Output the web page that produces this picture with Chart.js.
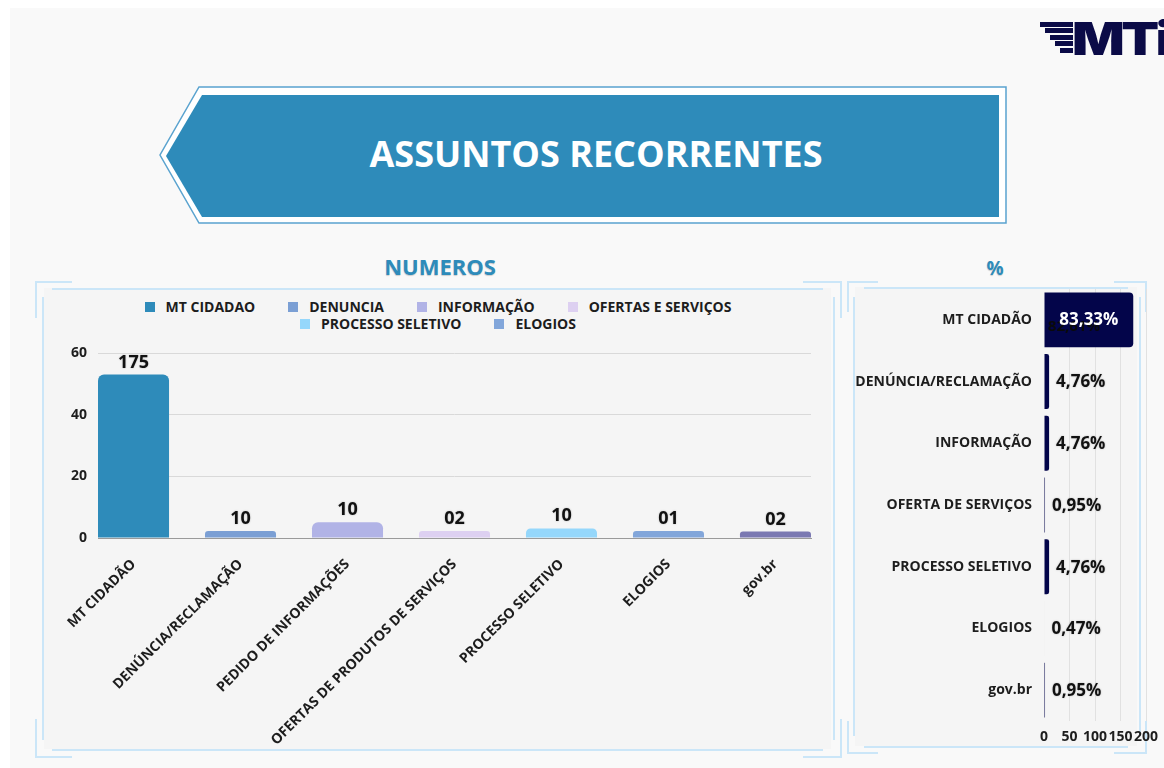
<!DOCTYPE html>
<html lang="pt-BR">
<head>
<meta charset="utf-8">
<title>Assuntos Recorrentes</title>
<script src="https://cdn.jsdelivr.net/npm/chart.js@4.4.1/dist/chart.umd.min.js"></script>
<style>
    html, body { margin: 0; padding: 0; }
    body {
        width: 1164px; height: 768px; position: relative; overflow: hidden;
        background: #ffffff; font-family: 'Open Sans', sans-serif;
    }
    .page { position: absolute; left: 10px; top: 8px; right: 0; bottom: 0; background: #f9f9f9; }
    .abs { position: absolute; }

    /* logo */
    .stripe { position: absolute; height: 5px; background: #0b0b47; }
    .logo-text {
        position: absolute; left: 1072px; top: 15px; font-family: 'Inter', sans-serif;
        font-weight: 900; font-size: 46px; line-height: 46px; color: #0b0b47; letter-spacing: -3px;
        transform: scaleX(1.2); transform-origin: left top; white-space: nowrap;
    }

    /* banner */
    .banner-text {
        position: absolute; left: 596px; top: 130px; transform: translateX(-50%);
        color: #fff; font-weight: 700; font-size: 36px; line-height: 48px; white-space: nowrap;
    }
    .section-title {
        position: absolute; transform: translateX(-50%); color: #2e8bba; font-weight: 700;
        white-space: nowrap; text-shadow: 0 1px 1px rgba(0,0,0,0.18);
    }

    /* moldura dos paineis */
    .card { position: absolute; background: #f5f5f5; }
    .line { position: absolute; background: #cbe6f8; }

    /* legenda */
    .legend {
        position: absolute; left: 138px; top: 298px; width: 600px;
        display: flex; flex-wrap: wrap; justify-content: center; column-gap: 33px; row-gap: 0;
    }
    .legend-item { display: flex; align-items: center; font-size: 14px; font-weight: 700; line-height: 17px; color: #1d1d1d; white-space: nowrap; }
    .legend-box { width: 10px; height: 10px; margin-right: 11px; }

    canvas { position: absolute; }
</style>
</head>
<body>
<div class="page"></div>

<!-- logo -->
<div class="stripe" style="left:1040px; top:22px; width:33px;"></div>
<div class="stripe" style="left:1045px; top:28px; width:28px;"></div>
<div class="stripe" style="left:1050px; top:35px; width:23px;"></div>
<div class="stripe" style="left:1055px; top:41px; width:18px;"></div>
<div class="stripe" style="left:1060px; top:48px; width:13px;"></div>
<div class="logo-text">MTi</div>

<!-- banner -->
<svg class="abs" style="left:0; top:0;" width="1164" height="240">
    <polygon points="199,87 1006,87 1006,223 199,223 160,155" fill="#ffffff" stroke="#5aa3cf" stroke-width="1.5"/>
    <polygon points="202,95 999,95 999,217 202,217 166,156" fill="#2e8bba"/>
</svg>
<div class="banner-text">ASSUNTOS RECORRENTES</div>

<div class="section-title" style="left:440px; top:253px; font-size:22px; line-height:26px;">NUMEROS</div>
<div class="section-title" style="left:995px; top:256px; font-size:19px; line-height:24px;">%</div>

<div id="frames"></div>
<div class="legend" id="legend"></div>

<canvas id="countChart" style="left:40px; top:338px;" width="800" height="430"></canvas>
<canvas id="pctChart" style="left:848px; top:280px;" width="316" height="488"></canvas>

<script>
// --- Dados: grafico de numeros ---
const categories = ['MT CIDADÃO', 'DENÚNCIA/RECLAMAÇÃO', 'PEDIDO DE INFORMAÇÕES', 'OFERTAS DE PRODUTOS DE SERVIÇOS', 'PROCESSO SELETIVO', 'ELOGIOS', 'gov.br'];
const barHeights = [53, 2.3, 5.1, 2.3, 3.1, 2.3, 2.1];
const countLabels = ['175', '10', '10', '02', '10', '01', '02'];
const barColors = ['#2e8bba', '#7b9fd4', '#b1b3e6', '#ddd0f1', '#95d7fb', '#82a6da', '#7b79b2'];
const legendNames = ['MT CIDADAO', 'DENUNCIA', 'INFORMAÇÃO', 'OFERTAS E SERVIÇOS', 'PROCESSO SELETIVO', 'ELOGIOS'];
const countTicks = [0, 20, 40, 60];

// --- Dados: grafico de porcentagem ---
const pctCategories = ['MT CIDADÃO', 'DENÚNCIA/RECLAMAÇÃO', 'INFORMAÇÃO', 'OFERTA DE SERVIÇOS', 'PROCESSO SELETIVO', 'ELOGIOS', 'gov.br'];
const pctCounts = [175, 10, 10, 2, 10, 1, 2];
const pctLabels = ['83,33%', '4,76%', '4,76%', '0,95%', '4,76%', '0,47%', '0,95%'];
const pctTicks = [0, 50, 100, 150, 200];
const overlapLabel = '82,61%'; // texto antigo que ficou por baixo no original

document.addEventListener('DOMContentLoaded', () => {

    Chart.defaults.font.family = "'Open Sans', sans-serif";
    Chart.defaults.font.weight = 'bold';
    Chart.defaults.color = '#1d1d1d';

    // --- Molduras (cantoneiras azuis) ---
    const frames = document.getElementById('frames');
    function addDiv(cls, x, y, w, h) {
        const d = document.createElement('div');
        d.className = cls;
        d.style.left = x + 'px'; d.style.top = y + 'px';
        d.style.width = w + 'px'; d.style.height = h + 'px';
        frames.appendChild(d);
    }
    function addFrame(x1, y1, x2, y2, arm, inset) {
        addDiv('card', x1 + inset + 2, y1 + inset, x2 - x1 - 2 * inset - 4, y2 - y1 - 2 * inset);
        // cantoneiras externas
        addDiv('line', x1, y1, arm, 2); addDiv('line', x1, y1, 2, arm);
        addDiv('line', x2 - arm, y1, arm, 2); addDiv('line', x2, y1, 2, arm);
        addDiv('line', x1, y2, arm, 2); addDiv('line', x1, y2 - arm, 2, arm);
        addDiv('line', x2 - arm, y2, arm + 2, 2); addDiv('line', x2, y2 - arm, 2, arm);
        // linhas internas
        addDiv('line', x1 + 17, y1 + inset, x2 - x1 - 34, 2);
        addDiv('line', x1 + 17, y2 - inset, x2 - x1 - 34, 2);
        addDiv('line', x1 + inset, y1 + 16, 2, y2 - y1 - 32);
        addDiv('line', x2 - inset, y1 + 16, 2, y2 - y1 - 32);
    }
    addFrame(35, 281, 840, 756, 37, 7);
    addFrame(847, 281, 1145, 752, 31, 6);

    // --- Legenda ---
    const legend = document.getElementById('legend');
    legendNames.forEach((name, i) => {
        const item = document.createElement('div');
        item.className = 'legend-item';
        item.innerHTML = `<span class="legend-box" style="background:${barColors[i]}"></span>${name}`;
        legend.appendChild(item);
    });

    // tamanho fixo dos eixos, sem padding automatico
    const fixSize = (prop, val) => (scale) => {
        scale[prop] = val;
        scale.paddingLeft = scale.paddingRight = scale.paddingTop = scale.paddingBottom = 0;
    };

    // --- Grafico de numeros ---
    const countValueLabels = {
        id: 'countValueLabels',
        afterDatasetsDraw(chart) {
            const ctx = chart.ctx;
            ctx.save();
            ctx.font = "bold 18px 'Open Sans', sans-serif";
            ctx.fillStyle = '#111';
            ctx.textAlign = 'center';
            ctx.textBaseline = 'alphabetic';
            ctx.shadowColor = 'rgba(0,0,0,0.25)';
            ctx.shadowBlur = 2;
            chart.getDatasetMeta(0).data.forEach((bar, i) => {
                ctx.fillText(countLabels[i], bar.x, bar.y - 7);
            });
            ctx.restore();
        }
    };

    new Chart(document.getElementById('countChart'), {
        type: 'bar',
        data: {
            datasets: [{
                data: barHeights.map((v, i) => ({ x: i, y: v })),
                backgroundColor: barColors,
                borderRadius: 6,
                borderSkipped: 'start',
                categoryPercentage: 1,
                barPercentage: 0.664
            }]
        },
        options: {
            responsive: false,
            animation: false,
            layout: { padding: { top: 15, right: 29, bottom: 0, left: 0 } },
            plugins: { legend: { display: false }, tooltip: { enabled: false } },
            scales: {
                x: {
                    type: 'linear',
                    min: -0.332,
                    max: categories.length - 1 + 0.332,
                    offset: false,
                    grid: { display: false, drawTicks: false, offset: false },
                    border: { display: true, color: '#9a9a9a', width: 1 },
                    afterBuildTicks: (s) => { s.ticks = categories.map((c, i) => ({ value: i })); },
                    afterFit: fixSize('height', 230),
                    ticks: {
                        autoSkip: false,
                        minRotation: 45,
                        maxRotation: 45,
                        padding: 18,
                        font: { size: 14, weight: 'bold' },
                        color: '#1d1d1d',
                        callback: (value) => categories[value]
                    }
                },
                y: {
                    min: 0,
                    max: 60,
                    grid: { color: '#d9d9d9', drawTicks: false },
                    border: { display: false },
                    afterBuildTicks: (s) => { s.ticks = countTicks.map(v => ({ value: v })); },
                    afterFit: fixSize('width', 58),
                    ticks: { padding: 11, font: { size: 14, weight: 'bold' }, color: '#1d1d1d' }
                }
            }
        },
        plugins: [countValueLabels]
    });

    // --- Grafico de porcentagem ---
    const pctValueLabels = {
        id: 'pctValueLabels',
        afterDatasetsDraw(chart) {
            const ctx = chart.ctx;
            ctx.save();
            ctx.textBaseline = 'middle';
            chart.getDatasetMeta(0).data.forEach((bar, i) => {
                const len = bar.x - bar.base;
                if (len > 60) {
                    const cx = (bar.x + bar.base) / 2;
                    ctx.textAlign = 'center';
                    ctx.font = "bold 15px 'Open Sans', sans-serif";
                    ctx.fillStyle = '#0a0a0a';
                    ctx.fillText(overlapLabel, cx - 15, bar.y + 7);
                    ctx.font = "bold 17px 'Open Sans', sans-serif";
                    ctx.fillStyle = '#ffffff';
                    ctx.fillText(pctLabels[i], cx, bar.y);
                } else {
                    ctx.textAlign = 'left';
                    ctx.font = "bold 17px 'Open Sans', sans-serif";
                    ctx.fillStyle = '#111';
                    ctx.shadowColor = 'rgba(0,0,0,0.25)';
                    ctx.shadowBlur = 2;
                    ctx.fillText(pctLabels[i], bar.x + 7, bar.y + 1);
                    ctx.shadowBlur = 0;
                }
            });
            ctx.restore();
        }
    };

    new Chart(document.getElementById('pctChart'), {
        type: 'bar',
        data: {
            labels: pctCategories,
            datasets: [{
                data: pctCounts,
                backgroundColor: '#03054a',
                borderRadius: 4,
                borderSkipped: 'start',
                categoryPercentage: 1,
                barPercentage: 0.89
            }]
        },
        options: {
            indexAxis: 'y',
            responsive: false,
            animation: false,
            layout: { padding: { top: 9, right: 18, bottom: 0, left: 0 } },
            plugins: { legend: { display: false }, tooltip: { enabled: false } },
            scales: {
                x: {
                    min: 0,
                    max: 200,
                    grid: {
                        drawTicks: false,
                        color: (c) => c.tick && c.tick.value === 0 ? 'rgba(0,0,0,0)' : '#e1e1e1'
                    },
                    border: { display: false },
                    afterBuildTicks: (s) => { s.ticks = pctTicks.map(v => ({ value: v })); },
                    afterFit: fixSize('height', 47),
                    ticks: {
                        autoSkip: false,
                        minRotation: 0,
                        maxRotation: 0,
                        padding: 8,
                        font: { size: 14, weight: 'bold' },
                        color: '#1d1d1d'
                    }
                },
                y: {
                    grid: { display: false, drawTicks: false },
                    border: { display: false },
                    afterFit: fixSize('width', 196),
                    ticks: { padding: 12, font: { size: 14, weight: 'bold' }, color: '#1d1d1d' }
                }
            }
        },
        plugins: [pctValueLabels]
    });
});
</script>
</body>
</html>
